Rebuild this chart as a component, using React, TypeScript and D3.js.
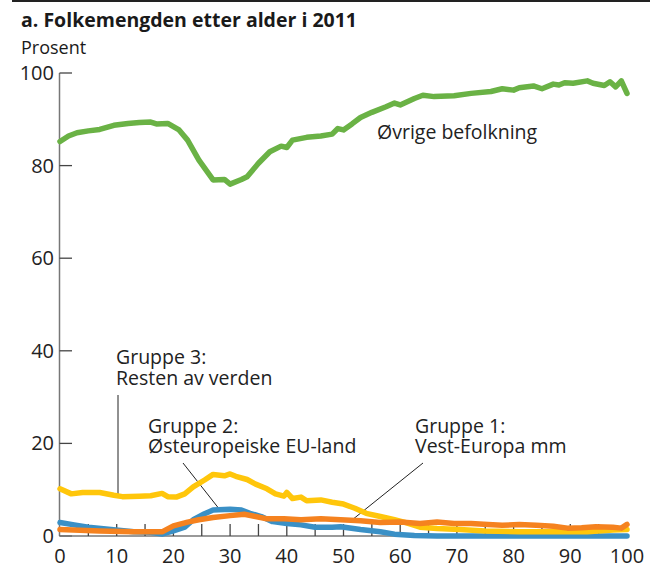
import React from 'react';
import * as d3 from 'd3';

// Andel av folkemengden (prosent) etter alder, 2011
const greenAges = [0, 1.5, 3, 5, 7, 9.5, 12, 14, 16, 17, 19, 21, 22.5, 24.5, 27, 29, 30, 32, 33, 35, 37, 39, 40, 41, 43.5, 46, 48, 49, 50, 51.5, 53, 55, 57.5, 59, 60, 62.5, 64, 66, 69.5, 72.5, 76, 78, 80, 81, 83.5, 85, 87, 88, 89, 90.5, 93, 94, 96, 97, 98, 99, 100];
const greenValues = [85.2, 86.4, 87.1, 87.5, 87.8, 88.7, 89.1, 89.3, 89.4, 89.0, 89.1, 87.7, 85.5, 81.2, 76.9, 77.0, 76.0, 77.0, 77.6, 80.5, 83.0, 84.2, 83.9, 85.5, 86.1, 86.4, 86.8, 88.0, 87.7, 89.0, 90.4, 91.5, 92.7, 93.5, 93.1, 94.5, 95.2, 94.9, 95.1, 95.6, 96.0, 96.6, 96.3, 96.8, 97.2, 96.6, 97.6, 97.4, 97.9, 97.8, 98.3, 97.8, 97.3, 98.1, 97.0, 98.3, 95.6];

const yellowAges = [0, 2, 4, 7, 9.5, 11, 14, 16, 18, 19, 20.5, 22, 23.5, 25.5, 27, 29, 30, 31, 33, 34.5, 36.5, 38, 39.5, 40, 41, 42.5, 43.5, 46, 48, 50, 52, 54, 56.5, 59, 61, 63.5, 66.5, 70.5, 75, 81, 87, 93, 97.5, 100];
const yellowValues = [10.2, 9.1, 9.4, 9.4, 8.8, 8.5, 8.6, 8.7, 9.2, 8.5, 8.4, 9.1, 10.6, 12.1, 13.3, 13.0, 13.4, 12.9, 12.2, 11.2, 10.2, 9.1, 8.6, 9.4, 8.1, 8.4, 7.6, 7.8, 7.3, 6.9, 6.0, 4.9, 4.2, 3.5, 2.9, 1.9, 1.6, 1.4, 1.1, 0.9, 0.9, 0.9, 1.3, 1.4];

const orangeAges = [0, 7, 13, 18, 20, 22.5, 24.5, 27, 30, 32.5, 34.5, 36.5, 39.5, 42.5, 46, 49.5, 53, 56.5, 60, 63.5, 66.5, 69.5, 72.5, 75.5, 78, 81, 84, 87, 89.5, 92, 94.5, 97.5, 99, 100];
const orangeValues = [1.4, 1.1, 0.9, 0.9, 2.2, 3.0, 3.5, 4.0, 4.4, 4.7, 4.2, 3.7, 3.7, 3.5, 3.7, 3.5, 3.3, 2.9, 3.0, 2.7, 3.0, 2.7, 2.7, 2.5, 2.3, 2.5, 2.3, 2.1, 1.7, 1.8, 2.0, 1.9, 1.7, 2.5];

const blueAges = [0, 2.5, 5, 9, 13, 16, 18, 20, 22, 23.5, 25.5, 27, 30, 32, 33.5, 35.5, 37.5, 40, 42.5, 45, 48, 49.5, 53, 56.5, 59, 62.5, 66.5, 75, 85, 95, 100];
const blueValues = [2.9, 2.4, 1.9, 1.4, 0.9, 0.8, 0.4, 1.1, 1.9, 3.5, 4.8, 5.6, 5.8, 5.6, 4.9, 4.2, 3.1, 2.7, 2.4, 1.9, 1.9, 2.0, 1.4, 0.9, 0.4, 0.1, 0.0, 0.0, 0.0, 0.0, 0.0];

const yTicks = [0, 20, 40, 60, 80, 100];
const xLabelTicks = [0, 10, 20, 30, 40, 50, 60, 70, 80, 90, 100];
const xMinorTicks = d3.range(5, 100, 5);

const font = "'Open Sans', 'DejaVu Sans', sans-serif";

export default function App() {
  const x = d3.scaleLinear().domain([0, 100]).range([60, 627]);
  const y = d3.scaleLinear().domain([0, 100]).range([536, 73]);

  const mk = (ages: number[], vals: number[]) =>
    d3
      .line<number>()
      .x((d) => x(ages[d]))
      .y((d) => y(vals[d]))(d3.range(ages.length)) || '';

  const series = [
    { ages: blueAges, vals: blueValues, color: '#3a90c6' },
    { ages: yellowAges, vals: yellowValues, color: '#ffc60b' },
    { ages: orangeAges, vals: orangeValues, color: '#f5821f' },
    { ages: greenAges, vals: greenValues, color: '#6ab245' },
  ];

  const axisX = x(0) - 0.5;

  return (
    <svg
      width={654}
      height={567}
      style={{ position: 'absolute', left: 0, top: 0, background: '#fff' }}
      fontFamily={font}
    >
      <line x1={12} x2={650} y1={1} y2={1} stroke="#222" strokeWidth={2} />
      <text x={21} y={27} fontSize={19.5} fontWeight="bold" fill="#1a1a1a">
        a. Folkemengden etter alder i 2011
      </text>
      <text x={21} y={54} fontSize={18} fill="#1a1a1a">
        Prosent
      </text>

      {/* y axis */}
      <line x1={axisX} x2={axisX} y1={y(100)} y2={y(0)} stroke="#777" strokeWidth={1.5} />
      {yTicks.map((t) => (
        <g key={t}>
          <line x1={axisX} x2={72} y1={y(t)} y2={y(t)} stroke="#444" strokeWidth={1.3} />
          <text x={54} y={y(t)} dy="0.35em" textAnchor="end" fontSize={20} fill="#222">
            {t}
          </text>
        </g>
      ))}

      {/* x axis */}
      <line x1={axisX} x2={x(100)} y1={y(0)} y2={y(0)} stroke="#777" strokeWidth={1.5} />
      {xMinorTicks.map((t) => (
        <line key={t} x1={x(t)} x2={x(t)} y1={y(0)} y2={y(0) - 12} stroke="#444" strokeWidth={1.3} />
      ))}
      {xLabelTicks.map((t) => (
        <text key={t} x={x(t)} y={563} textAnchor="middle" fontSize={20} fill="#222">
          {t}
        </text>
      ))}

      {/* leader lines */}
      <line x1={118} x2={118} y1={395} y2={495} stroke="#222" strokeWidth={1} />
      <line x1={183} x2={220} y1={463} y2={510} stroke="#222" strokeWidth={1} />
      <line x1={423} x2={352} y1={463} y2={520} stroke="#222" strokeWidth={1} />

      {series.map((s, i) => (
        <path
          key={i}
          d={mk(s.ages, s.vals)}
          fill="none"
          stroke={s.color}
          strokeWidth={5.5}
          strokeLinejoin="round"
          strokeLinecap="round"
        />
      ))}

      {/* labels */}
      <g fontSize={19.5} fill="#222">
        <text x={377} y={139}>Øvrige befolkning</text>
        <text x={116} y={364}>Gruppe 3:</text>
        <text x={116} y={385}>Resten av verden</text>
        <text x={148} y={433}>Gruppe 2:</text>
        <text x={148} y={453}>Østeuropeiske EU-land</text>
        <text x={415} y={433}>Gruppe 1:</text>
        <text x={415} y={453}>Vest-Europa mm</text>
      </g>
    </svg>
  );
}
